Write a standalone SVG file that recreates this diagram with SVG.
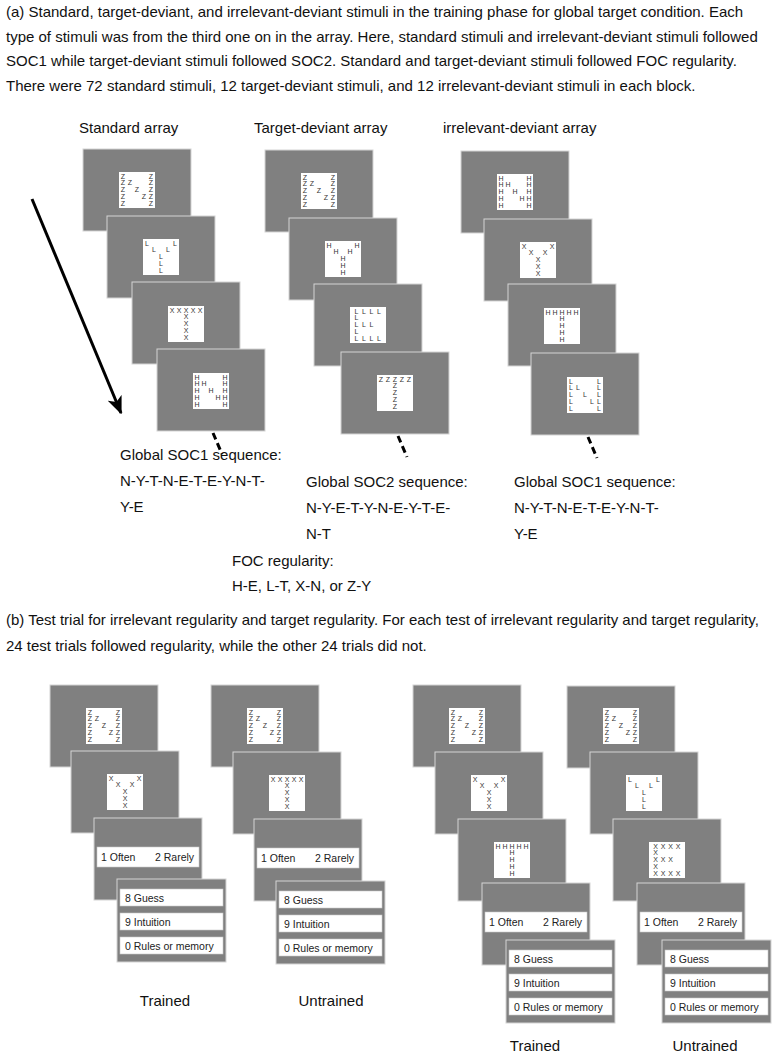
<svg xmlns="http://www.w3.org/2000/svg" xmlns:xlink="http://www.w3.org/1999/xlink" width="774" height="1055" viewBox="0 0 774 1055">
<style>
.t{font-family:"Liberation Sans",Arial,sans-serif;font-size:15px;fill:#111}
.h{font-family:"Liberation Sans",Arial,sans-serif;font-size:15px;fill:#111}
.card{fill:#808080;stroke:#d4d4d4;stroke-width:1}
.in{fill:#fff}
.lt{font-family:"Liberation Sans",Arial,sans-serif;font-size:7px;fill:#333;text-anchor:middle}
.bar{fill:#fff;stroke:#c8c8c8;stroke-width:0.6}
.bt{font-family:"Liberation Sans",Arial,sans-serif;font-size:10.5px;fill:#222}
.lab{font-family:"Liberation Sans",Arial,sans-serif;font-size:15px;fill:#111;text-anchor:middle}
</style>
<defs>
<marker id="ah" viewBox="0 0 12 10" refX="11" refY="5" markerWidth="6" markerHeight="5" orient="auto" markerUnits="strokeWidth">
<path d="M0,0 L12,5 L0,10 L3,5 z" fill="#000"/>
</marker>
<g id="NZ"><rect class="in" width="36" height="36"/><text class="lt" x="4 4 4 4 4 11 18 25 32 32 32 32 32" y="6.5 13.35 20.2 27.05 33.9 13.35 20.2 27.05 6.5 13.35 20.2 27.05 33.9">ZZZZZZZZZZZZZ</text></g>
<g id="NH"><rect class="in" width="36" height="36"/><text class="lt" x="4 4 4 4 4 11 18 25 32 32 32 32 32" y="6.5 13.35 20.2 27.05 33.9 13.35 20.2 27.05 6.5 13.35 20.2 27.05 33.9">HHHHHHHHHHHHH</text></g>
<g id="NL"><rect class="in" width="36" height="36"/><text class="lt" x="4 4 4 4 4 11 18 25 32 32 32 32 32" y="6.5 13.35 20.2 27.05 33.9 13.35 20.2 27.05 6.5 13.35 20.2 27.05 33.9">LLLLLLLLLLLLL</text></g>
<g id="YL"><rect class="in" width="36" height="36"/><text class="lt" x="4 11 18 18 18 25 32" y="6.5 13.35 20.2 27.05 33.9 13.35 6.5">LLLLLLL</text></g>
<g id="YH"><rect class="in" width="36" height="36"/><text class="lt" x="4 11 18 18 18 25 32" y="6.5 13.35 20.2 27.05 33.9 13.35 6.5">HHHHHHH</text></g>
<g id="YX"><rect class="in" width="36" height="36"/><text class="lt" x="4 11 18 18 18 25 32" y="6.5 13.35 20.2 27.05 33.9 13.35 6.5">XXXXXXX</text></g>
<g id="TX"><rect class="in" width="36" height="36"/><text class="lt" x="4 11 18 25 32 18 18 18 18" y="6.5 6.5 6.5 6.5 6.5 13.35 20.2 27.05 33.9">XXXXXXXXX</text></g>
<g id="TZ"><rect class="in" width="36" height="36"/><text class="lt" x="4 11 18 25 32 18 18 18 18" y="6.5 6.5 6.5 6.5 6.5 13.35 20.2 27.05 33.9">ZZZZZZZZZ</text></g>
<g id="TH"><rect class="in" width="36" height="36"/><text class="lt" x="4 11 18 25 32 18 18 18 18" y="6.5 6.5 6.5 6.5 6.5 13.35 20.2 27.05 33.9">HHHHHHHHH</text></g>
<g id="EL"><rect class="in" width="36" height="36"/><text class="lt" x="6.5 14 21.5 29 6.5 6.5 14 21.5 6.5 6.5 14 21.5 29" y="6.5 6.5 6.5 6.5 13.35 20.2 20.2 20.2 27.05 33.9 33.9 33.9 33.9">LLLLLLLLLLLLL</text></g>
<g id="EX"><rect class="in" width="36" height="36"/><text class="lt" x="6.5 14 21.5 29 6.5 6.5 14 21.5 6.5 6.5 14 21.5 29" y="6.5 6.5 6.5 6.5 13.35 20.2 20.2 20.2 27.05 33.9 33.9 33.9 33.9">XXXXXXXXXXXXX</text></g>
<g id="often"><rect class="card" width="108" height="82"/><rect class="bar" x="3" y="29" width="102" height="20"/><text class="bt" x="7" y="43">1 Often</text><text class="bt" x="61" y="43">2 Rarely</text></g>
<g id="conf"><rect class="card" width="109" height="83"/><rect class="bar" x="3" y="10" width="103" height="17"/><text class="bt" x="8" y="22.5">8 Guess</text><rect class="bar" x="3" y="34" width="103" height="17"/><text class="bt" x="8" y="46.5">9 Intuition</text><rect class="bar" x="3" y="58" width="103" height="17"/><text class="bt" x="8" y="70.5">0 Rules or memory</text></g>
</defs>
<rect width="774" height="1055" fill="#fff"/>
<g id="caption-a">
<text class="t" x="6" y="17">(a) Standard, target-deviant, and irrelevant-deviant stimuli in the training phase for global target condition. Each</text>
<text class="t" x="6" y="42">type of stimuli was from the third one on in the array. Here, standard stimuli and irrelevant-deviant stimuli followed</text>
<text class="t" x="6" y="66">SOC1 while target-deviant stimuli followed SOC2. Standard and target-deviant stimuli followed FOC regularity.</text>
<text class="t" x="6" y="91">There were 72 standard stimuli, 12 target-deviant stimuli, and 12 irrelevant-deviant stimuli in each block.</text>
</g>
<g id="headers">
<text class="h" x="79" y="133">Standard array</text>
<text class="h" x="254" y="133">Target-deviant array</text>
<text class="h" x="443" y="133">irrelevant-deviant array</text>
</g>
<g id="standard-array">
<rect class="card" x="83" y="149" width="108" height="82"/><use xlink:href="#NZ" x="119" y="172"/>
<rect class="card" x="107" y="216" width="108" height="82"/><use xlink:href="#YL" x="143" y="239"/>
<rect class="card" x="132" y="282" width="108" height="82"/><use xlink:href="#TX" x="168" y="306"/>
<rect class="card" x="157" y="349" width="108" height="82"/><use xlink:href="#NH" x="193" y="373"/>
</g>
<g id="target-deviant-array">
<rect class="card" x="265" y="150" width="108" height="82"/><use xlink:href="#NZ" x="301" y="173"/>
<rect class="card" x="289" y="218" width="108" height="82"/><use xlink:href="#YH" x="325" y="241"/>
<rect class="card" x="314" y="284" width="108" height="82"/><use xlink:href="#EL" x="350" y="307"/>
<rect class="card" x="341" y="352" width="108" height="82"/><use xlink:href="#TZ" x="377" y="375"/>
</g>
<g id="irrelevant-deviant-array">
<rect class="card" x="461" y="151" width="108" height="82"/><use xlink:href="#NH" x="497" y="174"/>
<rect class="card" x="484" y="219" width="108" height="82"/><use xlink:href="#YX" x="520" y="242"/>
<rect class="card" x="508" y="284" width="108" height="82"/><use xlink:href="#TH" x="544" y="308"/>
<rect class="card" x="531" y="353" width="108" height="82"/><use xlink:href="#NL" x="567" y="377"/>
</g>
<g id="connectors" stroke="#000" fill="none">
<line x1="32" y1="199" x2="121" y2="413" stroke-width="3" marker-end="url(#ah)"/>
<line x1="213" y1="433" x2="222" y2="454" stroke-width="3" stroke-dasharray="7,4"/>
<line x1="398" y1="436" x2="407" y2="457" stroke-width="3" stroke-dasharray="7,4"/>
<line x1="588" y1="437" x2="597" y2="458" stroke-width="3" stroke-dasharray="7,4"/>
</g>
<g id="sequences">
<text class="h" x="120" y="460">Global SOC1 sequence:</text>
<text class="h" x="120" y="486">N-Y-T-N-E-T-E-Y-N-T-</text>
<text class="h" x="120" y="512">Y-E</text>
<text class="h" x="306" y="487">Global SOC2 sequence:</text>
<text class="h" x="306" y="513">N-Y-E-T-Y-N-E-Y-T-E-</text>
<text class="h" x="306" y="539">N-T</text>
<text class="h" x="514" y="487">Global SOC1 sequence:</text>
<text class="h" x="514" y="513">N-Y-T-N-E-T-E-Y-N-T-</text>
<text class="h" x="514" y="539">Y-E</text>
<text class="h" x="232" y="566">FOC regularity:</text>
<text class="h" x="232" y="591">H-E, L-T, X-N, or Z-Y</text>
</g>
<g id="caption-b">
<text class="t" x="6" y="625">(b) Test trial for irrelevant regularity and target regularity. For each test of irrelevant regularity and target regularity,</text>
<text class="t" x="6" y="651">24 test trials followed regularity, while the other 24 trials did not.</text>
</g>
<g id="test-trained-1">
<rect class="card" x="50" y="685" width="108" height="82"/><use xlink:href="#NZ" x="86" y="708"/>
<rect class="card" x="71" y="751" width="108" height="82"/><use xlink:href="#YX" x="107" y="774"/>
<use xlink:href="#often" x="94" y="818"/>
<use xlink:href="#conf" x="117" y="879"/>
<text class="lab" x="165" y="1006">Trained</text>
</g>
<g id="test-untrained-1">
<rect class="card" x="211" y="685" width="108" height="82"/><use xlink:href="#NZ" x="247" y="708"/>
<rect class="card" x="233" y="752" width="108" height="82"/><use xlink:href="#TX" x="269" y="775"/>
<use xlink:href="#often" x="254" y="819"/>
<use xlink:href="#conf" x="276" y="881"/>
<text class="lab" x="331" y="1006">Untrained</text>
</g>
<g id="test-trained-2">
<rect class="card" x="413" y="685" width="108" height="82"/><use xlink:href="#NZ" x="449" y="708"/>
<rect class="card" x="435" y="752" width="108" height="82"/><use xlink:href="#YX" x="471" y="775"/>
<rect class="card" x="458" y="819" width="108" height="82"/><use xlink:href="#TH" x="494" y="842"/>
<use xlink:href="#often" x="482" y="883"/>
<use xlink:href="#conf" x="506" y="940"/>
<text class="lab" x="535" y="1051">Trained</text>
</g>
<g id="test-untrained-2">
<rect class="card" x="567" y="686" width="108" height="82"/><use xlink:href="#NZ" x="603" y="708"/>
<rect class="card" x="590" y="752" width="108" height="82"/><use xlink:href="#YL" x="626" y="775"/>
<rect class="card" x="613" y="819" width="108" height="82"/><use xlink:href="#EX" x="649" y="842"/>
<use xlink:href="#often" x="637" y="883"/>
<use xlink:href="#conf" x="662" y="940"/>
<text class="lab" x="705" y="1051">Untrained</text>
</g>
</svg>
